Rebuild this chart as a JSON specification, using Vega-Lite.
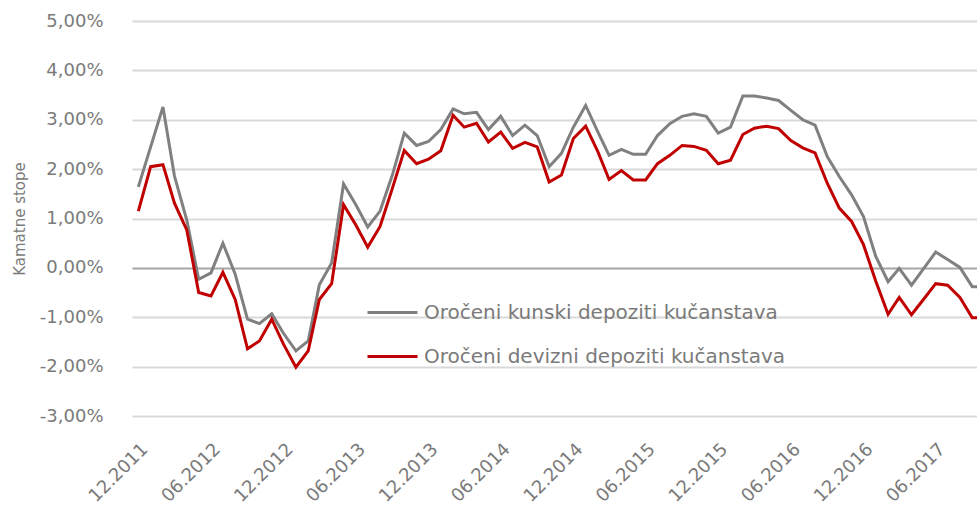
{
  "$schema": "https://vega.github.io/schema/vega-lite/v6.json",
  "width": 845,
  "height": 395,
  "autosize": {"type": "none"},
  "padding": {"left": 132, "top": 21, "right": 0, "bottom": 97},
  "background": "white",
  "data": {
    "values": [
      {"mjesec": "12.2011", "kunski": 1.64, "devizni": 1.15},
      {"mjesec": "01.2012", "kunski": 2.45, "devizni": 2.05},
      {"mjesec": "02.2012", "kunski": 3.26, "devizni": 2.09},
      {"mjesec": "03.2012", "kunski": 1.86, "devizni": 1.31},
      {"mjesec": "04.2012", "kunski": 0.97, "devizni": 0.77},
      {"mjesec": "05.2012", "kunski": -0.23, "devizni": -0.50},
      {"mjesec": "06.2012", "kunski": -0.10, "devizni": -0.57},
      {"mjesec": "07.2012", "kunski": 0.50, "devizni": -0.09},
      {"mjesec": "08.2012", "kunski": -0.13, "devizni": -0.64},
      {"mjesec": "09.2012", "kunski": -1.04, "devizni": -1.64},
      {"mjesec": "10.2012", "kunski": -1.13, "devizni": -1.48},
      {"mjesec": "11.2012", "kunski": -0.93, "devizni": -1.04},
      {"mjesec": "12.2012", "kunski": -1.33, "devizni": -1.55},
      {"mjesec": "01.2013", "kunski": -1.68, "devizni": -2.01},
      {"mjesec": "02.2013", "kunski": -1.48, "devizni": -1.68},
      {"mjesec": "03.2013", "kunski": -0.34, "devizni": -0.64},
      {"mjesec": "04.2013", "kunski": 0.10, "devizni": -0.32},
      {"mjesec": "05.2013", "kunski": 1.70, "devizni": 1.28},
      {"mjesec": "06.2013", "kunski": 1.28, "devizni": 0.87},
      {"mjesec": "07.2013", "kunski": 0.83, "devizni": 0.42},
      {"mjesec": "08.2013", "kunski": 1.15, "devizni": 0.84},
      {"mjesec": "09.2013", "kunski": 1.88, "devizni": 1.61},
      {"mjesec": "10.2013", "kunski": 2.73, "devizni": 2.38},
      {"mjesec": "11.2013", "kunski": 2.48, "devizni": 2.11},
      {"mjesec": "12.2013", "kunski": 2.56, "devizni": 2.20},
      {"mjesec": "01.2014", "kunski": 2.80, "devizni": 2.37},
      {"mjesec": "02.2014", "kunski": 3.22, "devizni": 3.09},
      {"mjesec": "03.2014", "kunski": 3.12, "devizni": 2.85},
      {"mjesec": "04.2014", "kunski": 3.15, "devizni": 2.93},
      {"mjesec": "05.2014", "kunski": 2.80, "devizni": 2.55},
      {"mjesec": "06.2014", "kunski": 3.07, "devizni": 2.75},
      {"mjesec": "07.2014", "kunski": 2.68, "devizni": 2.42},
      {"mjesec": "08.2014", "kunski": 2.89, "devizni": 2.54},
      {"mjesec": "09.2014", "kunski": 2.68, "devizni": 2.45},
      {"mjesec": "10.2014", "kunski": 2.05, "devizni": 1.74},
      {"mjesec": "11.2014", "kunski": 2.32, "devizni": 1.88},
      {"mjesec": "12.2014", "kunski": 2.85, "devizni": 2.62},
      {"mjesec": "01.2015", "kunski": 3.29, "devizni": 2.87},
      {"mjesec": "02.2015", "kunski": 2.75, "devizni": 2.35},
      {"mjesec": "03.2015", "kunski": 2.28, "devizni": 1.79},
      {"mjesec": "04.2015", "kunski": 2.40, "devizni": 1.97},
      {"mjesec": "05.2015", "kunski": 2.30, "devizni": 1.78},
      {"mjesec": "06.2015", "kunski": 2.30, "devizni": 1.78},
      {"mjesec": "07.2015", "kunski": 2.68, "devizni": 2.11},
      {"mjesec": "08.2015", "kunski": 2.92, "devizni": 2.28},
      {"mjesec": "09.2015", "kunski": 3.07, "devizni": 2.48},
      {"mjesec": "10.2015", "kunski": 3.12, "devizni": 2.46},
      {"mjesec": "11.2015", "kunski": 3.07, "devizni": 2.38},
      {"mjesec": "12.2015", "kunski": 2.73, "devizni": 2.11},
      {"mjesec": "01.2016", "kunski": 2.85, "devizni": 2.18},
      {"mjesec": "02.2016", "kunski": 3.48, "devizni": 2.70},
      {"mjesec": "03.2016", "kunski": 3.48, "devizni": 2.83},
      {"mjesec": "04.2016", "kunski": 3.44, "devizni": 2.87},
      {"mjesec": "05.2016", "kunski": 3.39, "devizni": 2.82},
      {"mjesec": "06.2016", "kunski": 3.19, "devizni": 2.58},
      {"mjesec": "07.2016", "kunski": 3.00, "devizni": 2.43},
      {"mjesec": "08.2016", "kunski": 2.89, "devizni": 2.33},
      {"mjesec": "09.2016", "kunski": 2.25, "devizni": 1.71},
      {"mjesec": "10.2016", "kunski": 1.85, "devizni": 1.21},
      {"mjesec": "11.2016", "kunski": 1.48, "devizni": 0.94},
      {"mjesec": "12.2016", "kunski": 1.04, "devizni": 0.47},
      {"mjesec": "01.2017", "kunski": 0.23, "devizni": -0.27},
      {"mjesec": "02.2017", "kunski": -0.28, "devizni": -0.94},
      {"mjesec": "03.2017", "kunski": -0.01, "devizni": -0.60},
      {"mjesec": "04.2017", "kunski": -0.35, "devizni": -0.95},
      {"mjesec": "05.2017", "kunski": -0.02, "devizni": -0.64},
      {"mjesec": "06.2017", "kunski": 0.32, "devizni": -0.32},
      {"mjesec": "07.2017", "kunski": 0.17, "devizni": -0.35},
      {"mjesec": "08.2017", "kunski": 0.01, "devizni": -0.60},
      {"mjesec": "09.2017", "kunski": -0.38, "devizni": -1.01},
      {"mjesec": "10.2017", "kunski": -0.38, "devizni": -1.01}
    ],
    "format": {"parse": {"mjesec": "date:'%m.%Y'"}}
  },
  "transform": [
    {"fold": ["kunski", "devizni"], "as": ["vrsta", "stopa"]}
  ],
  "mark": {"type": "line", "strokeWidth": 3, "clip": true, "interpolate": "linear"},
  "encoding": {
    "x": {
      "field": "mjesec",
      "type": "temporal",
      "scale": {
        "domain": [
          {"year": 2011, "month": 11, "date": 15},
          {"year": 2017, "month": 9, "date": 13}
        ]
      },
      "axis": {
        "title": null,
        "format": "%m.%Y",
        "values": [
          {"year": 2011, "month": 12, "date": 1},
          {"year": 2012, "month": 6, "date": 1},
          {"year": 2012, "month": 12, "date": 1},
          {"year": 2013, "month": 6, "date": 1},
          {"year": 2013, "month": 12, "date": 1},
          {"year": 2014, "month": 6, "date": 1},
          {"year": 2014, "month": 12, "date": 1},
          {"year": 2015, "month": 6, "date": 1},
          {"year": 2015, "month": 12, "date": 1},
          {"year": 2016, "month": 6, "date": 1},
          {"year": 2016, "month": 12, "date": 1},
          {"year": 2017, "month": 6, "date": 1}
        ],
        "labelAngle": -45,
        "labelAlign": "right",
        "labelBaseline": "top",
        "labelPadding": 24,
        "labelFontSize": 18,
        "labelFont": "DejaVu Sans",
        "labelColor": "#7a7a7a",
        "labelOverlap": false,
        "labelFlush": false,
        "grid": false,
        "ticks": false,
        "domain": false
      }
    },
    "y": {
      "field": "stopa",
      "type": "quantitative",
      "scale": {"domain": [-3, 5], "nice": false, "zero": false},
      "axis": {
        "title": "Kamatne stope",
        "titleFont": "DejaVu Sans",
        "titleFontSize": 15,
        "titleFontWeight": "normal",
        "titleColor": "#7a7a7a",
        "titlePadding": 12,
        "values": [-3, -2, -1, 0, 1, 2, 3, 4, 5],
        "labelExpr": "replace(replace(format(datum.value, '.2f'), '.', ','), '−', '-') + '%'",
        "labelFont": "DejaVu Sans",
        "labelFontSize": 18,
        "labelColor": "#7a7a7a",
        "labelPadding": 29,
        "ticks": false,
        "domain": false,
        "grid": true,
        "gridColor": {"condition": {"test": "datum.value === 0", "value": "#a6a6a6"}, "value": "#d9d9d9"},
        "gridWidth": 2
      }
    },
    "color": {
      "field": "vrsta",
      "type": "nominal",
      "scale": {"domain": ["kunski", "devizni"], "range": ["#808080", "#c00000"]},
      "legend": {
        "title": null,
        "orient": "none",
        "legendX": 234,
        "legendY": 265,
        "symbolType": "stroke",
        "symbolSize": 2500,
        "symbolStrokeWidth": 3,
        "labelFont": "DejaVu Sans",
        "labelFontSize": 20,
        "labelColor": "#7a7a7a",
        "labelOffset": 5,
        "labelLimit": 600,
        "rowPadding": 7,
        "labelExpr": "datum.value === 'kunski' ? 'Oročeni kunski depoziti kučanstava' : 'Oročeni devizni depoziti kučanstava'"
      }
    }
  },
  "config": {"view": {"stroke": null}}
}
